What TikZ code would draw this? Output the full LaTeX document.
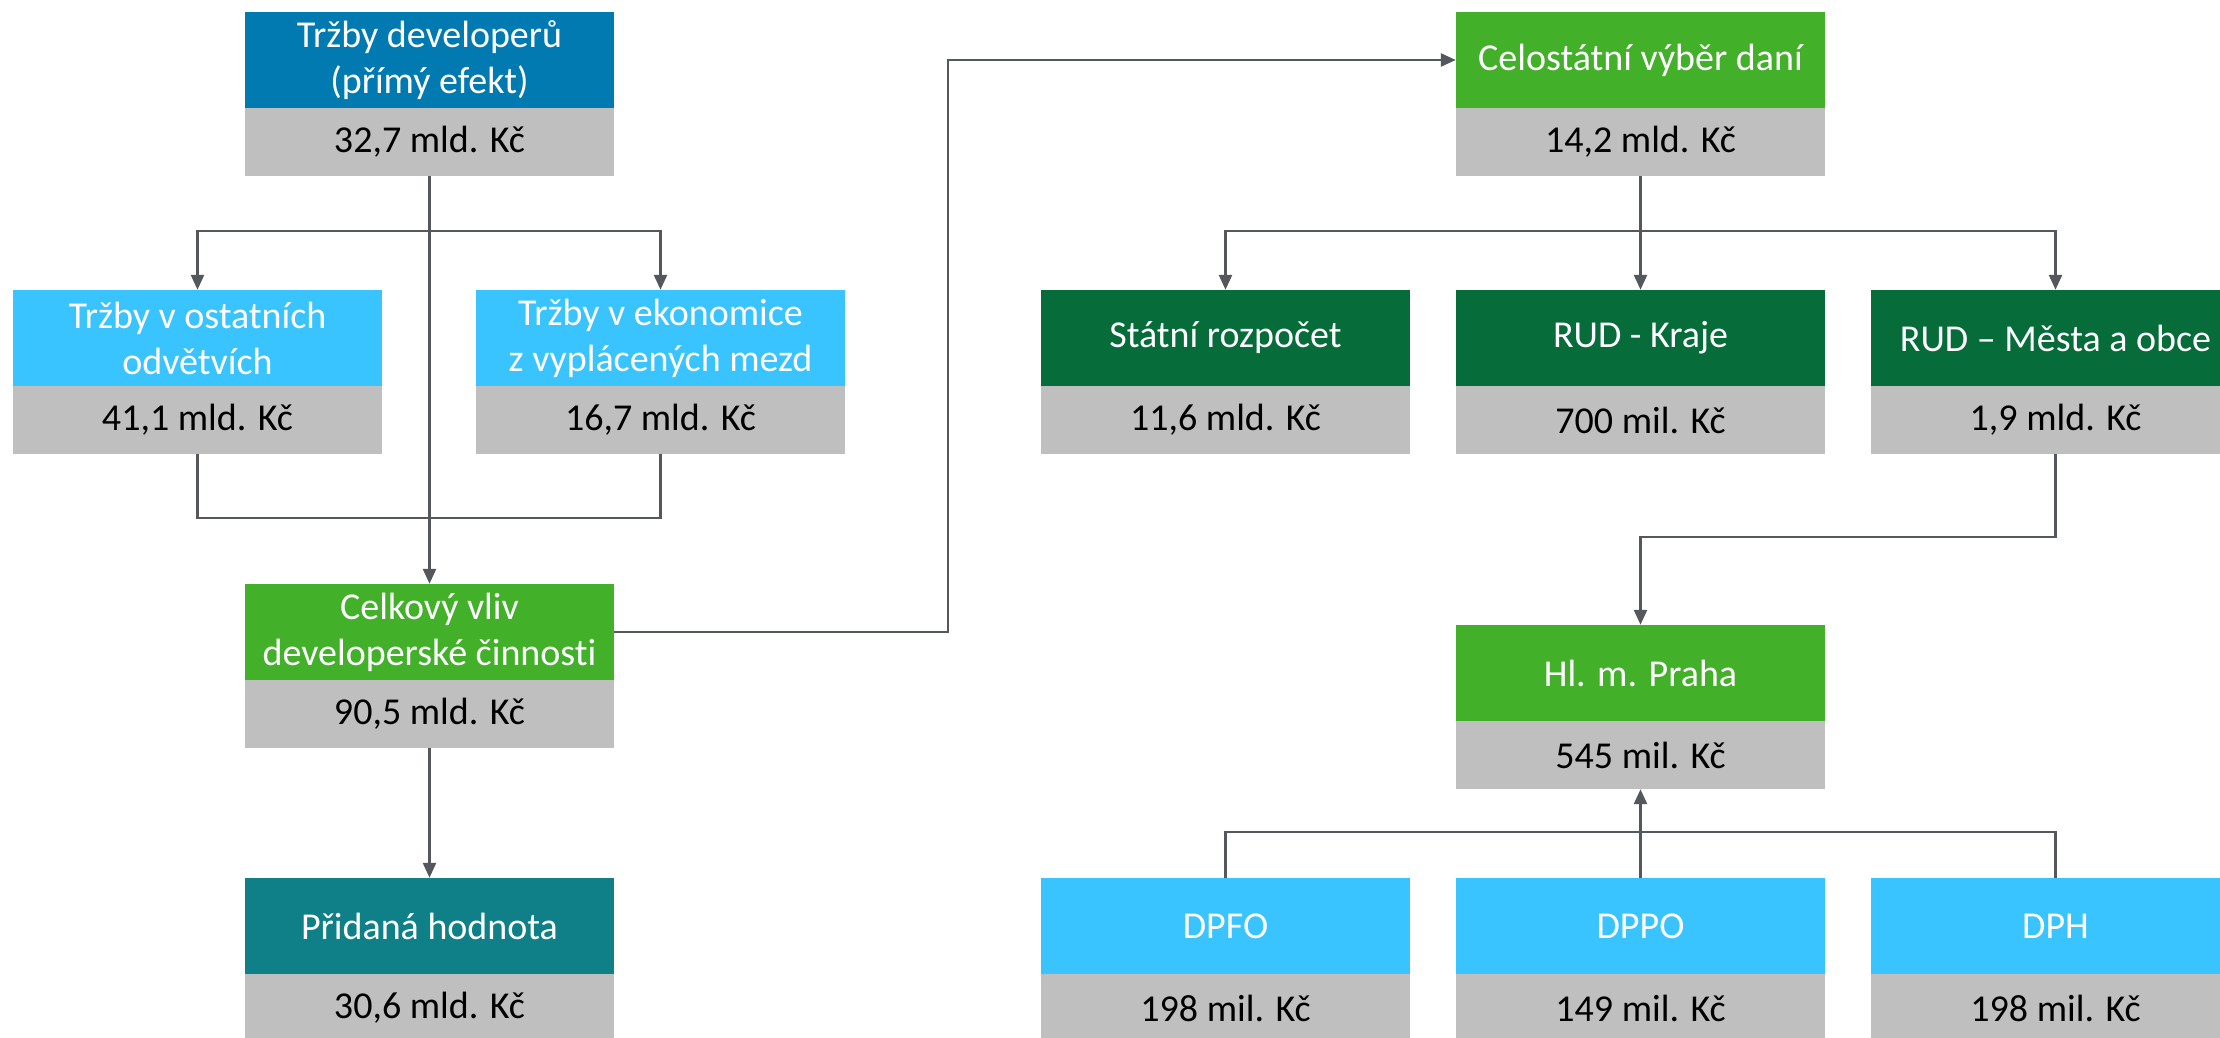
\documentclass[tikz,border=0pt]{standalone}
\usepackage{fontspec}
\setmainfont{Carlito}[Ligatures=NoCommon]
\usetikzlibrary{arrows.meta}
\definecolor{cblue}{HTML}{007AB0}
\definecolor{clight}{HTML}{3AC4FF}
\definecolor{cgreen}{HTML}{43B02A}
\definecolor{cdark}{HTML}{066C39}
\definecolor{cteal}{HTML}{0F8088}
\definecolor{cgray}{HTML}{BFBFBF}
\definecolor{cline}{HTML}{54575C}
\tikzset{
  titlebox/.style={rectangle, draw=none, minimum width=369pt, minimum height=96pt, inner sep=0pt,
    text=white, align=center, font=\fontsize{38}{46}\selectfont},
  valbox/.style={rectangle, draw=none, fill=cgray, minimum width=369pt, minimum height=68pt, inner sep=0pt,
    text=black, align=center, font=\fontsize{38}{46}\selectfont},
  conn/.style={draw=cline, line width=2.6pt},
  arr/.style={conn, -{Triangle[length=15pt,width=13pt]}},
}
\newcommand\pairbox[6]{%
  \node[titlebox, fill=#4] (#1) at (#2, #3+49) {#5};
  \node[valbox] (#1v) at (#2, #3+131) {#6};
}
\begin{document}
\begin{tikzpicture}[x=1pt,y=-1pt]
\useasboundingbox (0,0) rectangle (2220,1037);
\clip (0,0) rectangle (2220,1037);
% left part
\pairbox{td}{429.5}{11}{cblue}{Tržby developerů\\(přímý efekt)}{32,7 mld. Kč}
\pairbox{ost}{197.5}{289}{clight}{Tržby v ostatních\\odvětvích}{41,1 mld. Kč}
\pairbox{eko}{660.5}{289}{clight}{Tržby v ekonomice\\z vyplácených mezd}{16,7 mld. Kč}
\pairbox{cel}{429.5}{583}{cgreen}{Celkový vliv\\developerské činnosti}{90,5 mld. Kč}
\pairbox{pri}{429.5}{877}{cteal}{Přidaná hodnota}{30,6 mld. Kč}
% right part
\pairbox{cst}{1640.5}{11}{cgreen}{Celostátní výběr daní}{14,2 mld. Kč}
\pairbox{sr}{1225.5}{289}{cdark}{Státní rozpočet}{11,6 mld. Kč}
\pairbox{kr}{1640.5}{289}{cdark}{RUD - Kraje}{700 mil. Kč}
\pairbox{mo}{2055.5}{289}{cdark}{RUD – Města a obce}{1,9 mld. Kč}
\pairbox{pr}{1640.5}{624}{cgreen}{Hl. m. Praha}{545 mil. Kč}
\pairbox{dpfo}{1225.5}{877}{clight}{DPFO}{198 mil. Kč}
\pairbox{dppo}{1640.5}{877}{clight}{DPPO}{149 mil. Kč}
\pairbox{dph}{2055.5}{877}{clight}{DPH}{198 mil. Kč}
% helper coordinates
\coordinate (splitL) at (429.5,231);
\coordinate (joinL) at (429.5,518);
\coordinate (bendA) at (948,60);
\coordinate (splitR) at (1640.5,231);
\coordinate (joinP) at (1640.5,537);
\coordinate (joinB) at (1640.5,832);
% left connectors
\draw[arr] (tdv.south) -- (cel.north);
\draw[arr] (splitL) -| (ost.north);
\draw[arr] (splitL) -| (eko.north);
\draw[conn] (ostv.south) |- (joinL) -| (ekov.south);
\draw[arr] (celv.south) -- (pri.north);
\draw[arr] (cel.east) -| (bendA) -- (cst.west);
% right connectors
\draw[conn] (cstv.south) -- (splitR);
\draw[arr] (splitR) -| (sr.north);
\draw[arr] (splitR) -- (kr.north);
\draw[arr] (splitR) -| (mo.north);
\draw[arr] (mov.south) |- (joinP) -- (pr.north);
\draw[conn] (dpfo.north) |- (joinB) -| (dph.north);
\draw[arr] (dppo.north) -- (prv.south);
\end{tikzpicture}
\end{document}
